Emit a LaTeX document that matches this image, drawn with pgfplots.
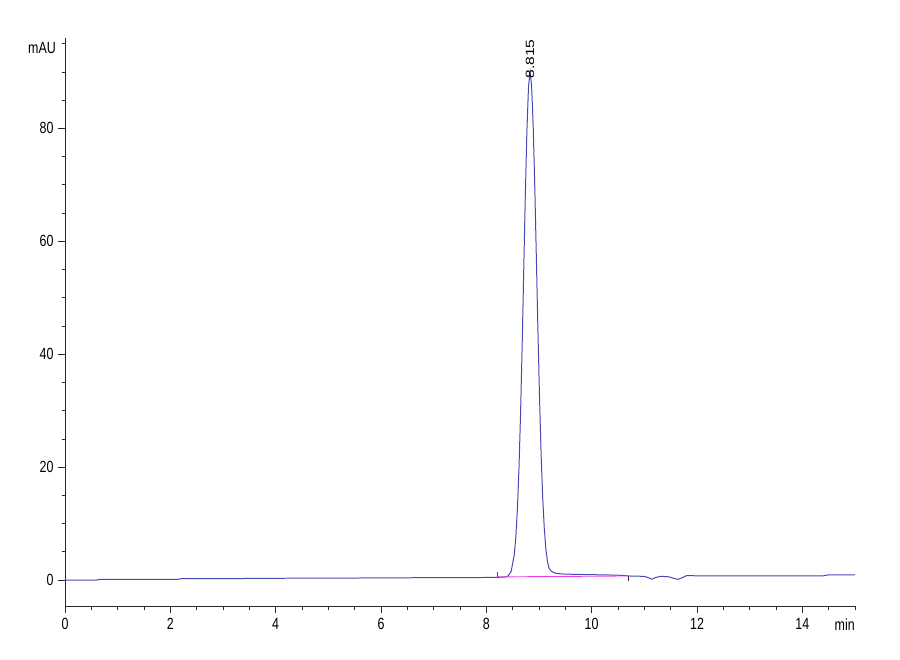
\documentclass[border=0pt]{standalone}
\usepackage{pgfplots}
\pgfplotsset{compat=1.18}
\usepackage{fontspec}
\setmainfont{Liberation Sans}

\definecolor{signal}{RGB}{72,72,180}
\definecolor{base}{RGB}{235,60,235}
\definecolor{axisgray}{RGB}{40,40,40}

% the original text is set a little taller than it is wide
\newcommand{\tall}[1]{\scalebox{1}[1.3]{#1}}

\begin{document}
\begin{tikzpicture}
\begin{axis}[
    at={(65bp,54bp)}, anchor=south west,
    scale only axis,
    width=790bp, height=568bp,
    xmin=0, xmax=15,
    ymin=-4.6, ymax=96,
    axis x line*=bottom,
    axis y line*=left,
    axis line style={axisgray, line width=0.7pt},
    tick align=outside,
    tick style={axisgray, line width=0.7pt},
    major tick length=7bp,
    minor tick length=3.5bp,
    xtick={0,2,...,14},
    ytick={0,20,...,80},
    minor xtick={0,0.5,...,15},
    minor ytick={0,5,...,95},
    ticklabel style={font=\fontsize{12.5}{12.5}\selectfont, text=black},
    xticklabel={\tall{\pgfmathprintnumber{\tick}}},
    yticklabel={\tall{\pgfmathprintnumber{\tick}}},
    /pgf/number format/assume math mode=true,
    xticklabel style={yshift=-2bp},
    yticklabel style={xshift=-1bp},
    clip=false,
]
% signal trace
\addplot[signal, line width=1pt] coordinates {
    (0,0.0) (0.6,0.0) (0.65,0.12) (2.15,0.12) (2.2,0.23) (3.35,0.23) (3.4,0.30)
    (5,0.33) (6,0.38) (7,0.42) (8,0.45) (8.2,0.48) (8.3,0.50)
    (8.35,0.53) (8.41,0.70) (8.47,1.49) (8.53,4.43) (8.56,7.62) (8.59,12.61)
    (8.62,19.86) (8.65,29.56) (8.68,41.47) (8.71,54.78) (8.74,68.05)
    (8.77,79.48) (8.80,87.24) (8.83,90.0)
    (8.86,87.46) (8.89,80.26) (8.92,69.57) (8.95,56.96) (8.98,44.07)
    (9.01,32.24) (9.04,22.32) (9.07,14.67) (9.10,9.18) (9.13,5.52)
    (9.16,3.30) (9.19,2.10) (9.23,1.60) (9.27,1.35) (9.32,1.20) (9.40,1.10)
    (9.50,1.05) (9.70,1.00) (10.0,0.95) (10.3,0.90) (10.6,0.82)
    (10.7,0.72) (11.0,0.65) (11.08,0.40) (11.14,0.15) (11.2,0.40) (11.3,0.65)
    (11.45,0.60) (11.56,0.30) (11.64,0.12) (11.72,0.40) (11.8,0.78)
    (12,0.75) (14.4,0.75) (14.5,0.92) (15,0.92)
};
% integration baseline
\addplot[base, line width=0.9pt] coordinates {(8.2,0.55) (10.68,0.72)};
% peak start / end markers
\addplot[signal, line width=0.7pt] coordinates {(8.2,0.5) (8.2,1.4)};
\addplot[axisgray, line width=0.7pt] coordinates {(10.7,0.7) (10.7,-0.2)};

\node[rotate=90, anchor=west, inner sep=0pt, font=\fontsize{12}{12}\selectfont]
    at (axis cs:8.83,88.8) {\scalebox{1.3}[1]{8.815}};
\node[anchor=east, inner sep=0pt, font=\fontsize{12.5}{12.5}\selectfont]
    at (axis cs:0,94.3) [xshift=-9bp] {\tall{mAU}};
\node[anchor=north east, inner sep=0pt, font=\fontsize{12.5}{12.5}\selectfont]
    at (axis cs:15,-4.6) [yshift=-13bp] {\tall{min}};
\end{axis}
\path (0,0) rectangle (900bp,660bp);
\end{tikzpicture}
\end{document}
